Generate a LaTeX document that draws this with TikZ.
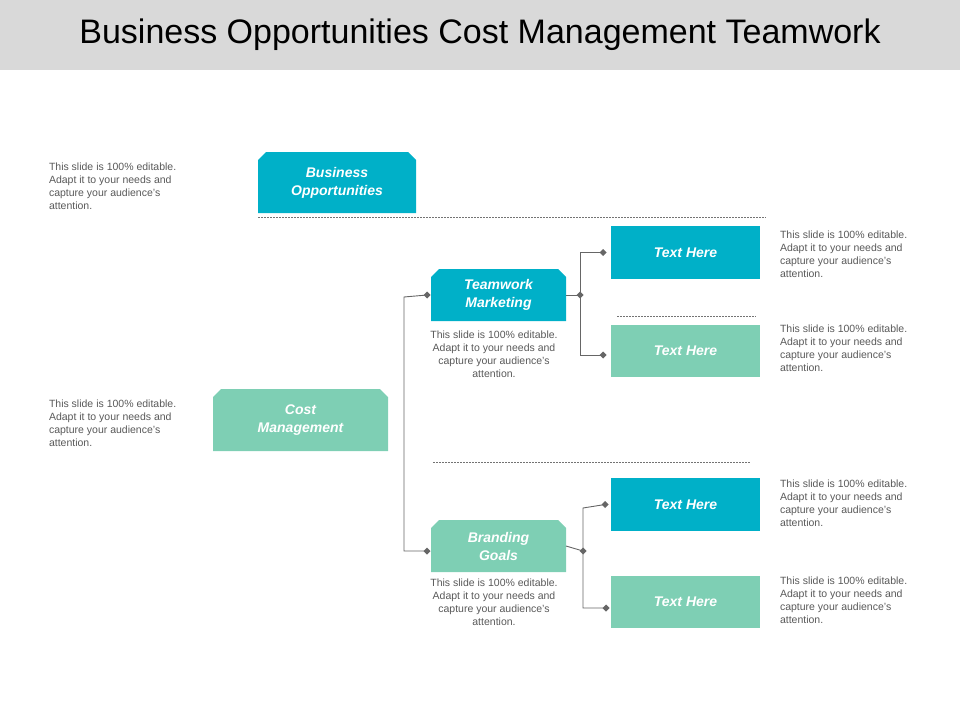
\documentclass[tikz,border=0pt]{standalone}
\usepackage{fontspec}
\setmainfont{Liberation Sans}
\begin{document}
\begin{tikzpicture}[x=1pt,y=-1pt,
  every node/.style={inner sep=0,outer sep=0},
  desc/.style={font=\fontsize{10.5}{13}\selectfont,text=black!65,align=left,anchor=north west},
  descc/.style={font=\fontsize{10.5}{13}\selectfont,text=black!65,align=center,anchor=north},
  lbl/.style={font=\fontsize{14}{18}\selectfont\bfseries\itshape,text=white,align=center},
  conn/.style={draw=black!60,line width=0.9pt},
  dsh/.style={draw=black!55,dashed,dash pattern=on 2pt off 1pt,line width=0.5pt}]
\definecolor{teal}{HTML}{00B0C8}
\definecolor{mint}{HTML}{7ECFB4}
\useasboundingbox (0,0) rectangle (960,720);
\fill[black!15] (0,0) rectangle (960,70);
\node (title) at (480,35) {\fontsize{34}{40}\selectfont Business Opportunities Cost Management Teamwork};
% chamfered boxes
\newcommand{\cbox}[6]{% name,color,x1,y1,x2,y2
  \fill[#2] (#3,#6) -- (#3,#4+8) -- (#3+8,#4) -- (#5-8,#4) -- (#5,#4+8) -- (#5,#6) -- cycle;
  \coordinate (#1) at ({(#3+#5)/2},{(#4+#6)/2});
  \coordinate (#1-w) at (#3,{(#4+#6)/2});
  \coordinate (#1-e) at (#5,{(#4+#6)/2});}
\cbox{bo}{teal}{258}{152}{416}{213}
\cbox{cm}{mint}{213}{389}{388}{451}
\cbox{tm}{teal}{431}{269}{566}{321}
\cbox{bg}{mint}{431}{520}{566}{572}
\node[lbl] (bot) at (bo) {Business\\Opportunities};
\node[lbl] (cmt) at (cm) {Cost\\Management};
\node[lbl] (tmt) at (tm) {Teamwork\\Marketing};
\node[lbl] (bgt) at (bg) {Branding\\Goals};
\node[fill=teal,minimum width=149,minimum height=53] (t1) at (685.5,252.5) {};
\node[fill=mint,minimum width=149,minimum height=52] (t2) at (685.5,351) {};
\node[fill=teal,minimum width=149,minimum height=53] (t3) at (685.5,504.5) {};
\node[fill=mint,minimum width=149,minimum height=52] (t4) at (685.5,602) {};
\foreach \n in {t1,t2,t3,t4} \node[lbl] at (\n) {Text Here};
% dashed lines
\draw[dsh] (258,217) -- (766,217);
\draw[dsh] (617,316) -- (756,316);
\draw[dsh] (433,462) -- (750,462);
% connectors
\coordinate (j1) at (404,297); \coordinate (j2) at (404,551);
\coordinate (k1) at (580,295); \coordinate (k2) at (583,551);
\draw[conn] (tm-w) ++(-4,0) coordinate (a1) -- (j1) -- (j2) -- ++(23,0) coordinate (a2);
\draw[conn] (tm-e) -- (k1);
\draw[conn] (t1.west) ++(-8,0) coordinate (b1) -- (580,252.5) -- (580,355) -- ++(23,0) coordinate (b2);
\draw[conn] (bg-e) -- (k2);
\draw[conn] (t3.west) ++(-6,0) coordinate (c1) -- (583,508) -- (583,608) -- ++(23,0) coordinate (c2);
\foreach \p in {a1,a2,b1,b2,c1,c2,k1,k2}
  \fill[black!60] (\p) ++(-3.5,0) -- ++(3.5,-3.5) -- ++(3.5,3.5) -- ++(-3.5,3.5) -- cycle;
% descriptions
\newcommand{\dtext}{This slide is 100\% editable.\\Adapt it to your needs and\\capture your audience's\\attention.}
\node[desc] (d1) at (49,163) {\dtext};
\node[desc] (d2) at (49,400) {\dtext};
\node[desc] (d3) at (780,231) {\dtext};
\node[desc] (d4) at (780,325) {\dtext};
\node[desc] (d5) at (780,480) {\dtext};
\node[desc] (d6) at (780,577) {\dtext};
\node[descc] (d7) at (494,331) {\dtext};
\node[descc] (d8) at (494,579) {\dtext};
\end{tikzpicture}
\end{document}
